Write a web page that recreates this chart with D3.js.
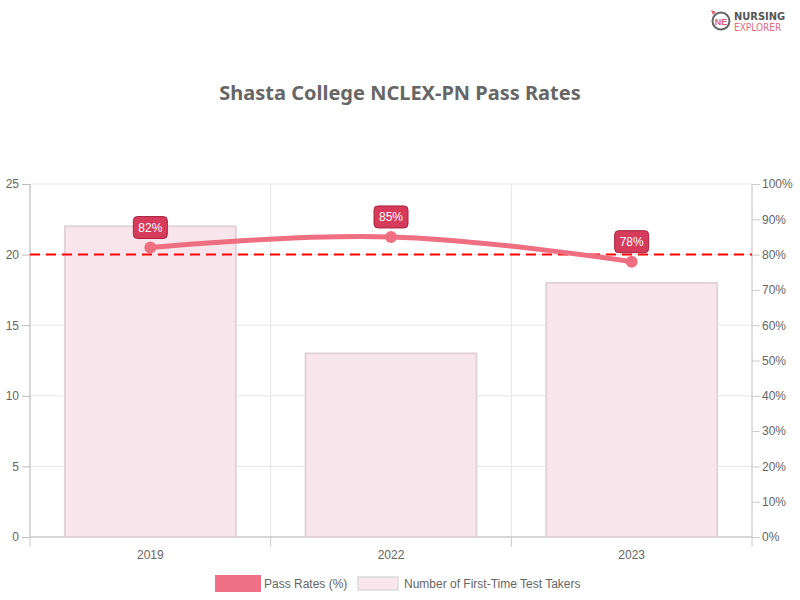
<!DOCTYPE html>
<html><head><meta charset="utf-8">
<script src="https://cdn.jsdelivr.net/npm/d3@7"></script>
<style>body{margin:0;background:#fff;} text{font-family:"Liberation Sans",Arial,sans-serif;}</style>
</head><body>
<svg id="c" width="800" height="600"></svg>
<script>
const years = ["2019","2022","2023"];
const passRates = [82, 85, 78];
const testTakers = [22, 13, 18];
const leftTicks = [0,5,10,15,20,25];
const rightTicks = [0,10,20,30,40,50,60,70,80,90,100];
const benchmark = 80;

const svg = d3.select("#c");
const L = 30, R = 752, T = 184, B = 537;
const x = d3.scaleBand().domain(years).range([L, R]).paddingInner(0).paddingOuter(0);
const yL = d3.scaleLinear().domain([0,25]).range([B,T]);
const yR = d3.scaleLinear().domain([0,100]).range([B,T]);
const grey = "#666";

// horizontal grid
svg.append("g").selectAll("line").data(leftTicks).join("line")
  .attr("x1", L).attr("x2", R).attr("y1", d=>yL(d)).attr("y2", d=>yL(d))
  .attr("stroke", "#e6e6e6").attr("stroke-width", 1);
// vertical grid
const vg = years.map(d=>x(d)).concat([R]);
svg.append("g").selectAll("line").data(vg).join("line")
  .attr("x1", d=>d).attr("x2", d=>d).attr("y1", T).attr("y2", B)
  .attr("stroke", "#e6e6e6");

// left axis
const gl = svg.append("g").attr("transform", `translate(${L},0)`)
  .call(d3.axisLeft(yL).tickValues(leftTicks).tickSize(8).tickPadding(3));
gl.select(".domain").attr("stroke", "#bbb").attr("d", `M0,${T}V${B}`);
gl.selectAll(".tick line").attr("stroke", "#bbb");
gl.selectAll("text").attr("fill", grey).style("font-size","12px").style("font-family","Liberation Sans, Arial, sans-serif");

// right axis
const gr = svg.append("g").attr("transform", `translate(${R},0)`)
  .call(d3.axisRight(yR).tickValues(rightTicks).tickFormat(d=>d+"%").tickSize(8).tickPadding(2));
gr.select(".domain").attr("stroke", "#ccc").attr("d", `M0,${T}V${B}`);
gr.selectAll(".tick line").attr("stroke", "#ccc");
gr.selectAll("text").attr("fill", grey).style("font-size","12px").style("font-family","Liberation Sans, Arial, sans-serif");

// bottom axis
const gb = svg.append("g").attr("transform", `translate(0,${B})`);
gb.append("line").attr("x1", L).attr("x2", R).attr("y1",0).attr("y2",0).attr("stroke","#bbb");
gb.selectAll(".tk").data(vg).join("line").attr("x1",d=>d).attr("x2",d=>d).attr("y1",0).attr("y2",10).attr("stroke","#ccc");
gb.selectAll("text").data(years).join("text")
  .attr("x", d=>x(d)+x.bandwidth()/2).attr("y", 22).attr("text-anchor","middle")
  .attr("fill", grey).style("font-size","12px").text(d=>d);

// bars
const bw = x.bandwidth()*0.71;
svg.append("g").selectAll("rect").data(years).join("rect")
  .attr("x", d=>x(d)+(x.bandwidth()-bw)/2)
  .attr("y", (d,i)=>yL(testTakers[i]))
  .attr("width", bw)
  .attr("height", (d,i)=>B-yL(testTakers[i]))
  .attr("fill", "#f9e6ec").attr("stroke", "#e2d3d8").attr("stroke-width", 2);

// benchmark dashed line
svg.append("line").attr("x1", L).attr("x2", R)
  .attr("y1", yR(benchmark)).attr("y2", yR(benchmark))
  .attr("stroke", "#ff0000").attr("stroke-width", 2).attr("stroke-dasharray", "10,6");

// line
const pts = years.map((d,i)=>[x(d)+x.bandwidth()/2, yR(passRates[i])]);
const lineGen = d3.line().curve(d3.curveCardinal.tension(-0.2));
svg.append("path").attr("d", lineGen(pts)).attr("fill","none")
  .attr("stroke","#f06e82").attr("stroke-width",5).attr("stroke-linecap","round");
svg.append("g").selectAll("circle").data(pts).join("circle")
  .attr("cx", d=>d[0]).attr("cy", d=>d[1]).attr("r", 6).attr("fill","#f06e82");

// labels
const lg = svg.append("g").selectAll("g").data(pts).join("g")
  .attr("transform", d=>`translate(${d[0]},${d[1]-20})`);
lg.append("rect").attr("x",-17).attr("y",-11).attr("width",34).attr("height",22).attr("rx",4)
  .attr("fill","#d63b5b").attr("stroke","#a8233f").attr("stroke-width",1);
lg.append("text").attr("text-anchor","middle").attr("dy","0.36em").attr("fill","#fff")
  .style("font-size","12px").text((d,i)=>passRates[i]+"%");

// title
svg.append("text").attr("x",400).attr("y",100).attr("text-anchor","middle")
  .attr("fill","#666").style("font-size","20px").style("font-weight","bold")
  .style("font-family","'Noto Sans','Open Sans',sans-serif")
  .text("Shasta College NCLEX-PN Pass Rates");

// legend
const leg = svg.append("g");
leg.append("rect").attr("x",215).attr("y",575).attr("width",46).attr("height",17).attr("fill","#f07086");
leg.append("text").attr("x",264).attr("y",588).attr("fill",grey).style("font-size","12px").text("Pass Rates (%)");
leg.append("rect").attr("x",358).attr("y",577).attr("width",40).attr("height",13).attr("fill","#f9e6ec").attr("stroke","#dcdcdc").attr("stroke-width",1.5);
leg.append("text").attr("x",404).attr("y",588).attr("fill",grey).style("font-size","12px").text("Number of First-Time Test Takers");

// logo
const logo = svg.append("g");
logo.append("circle").attr("cx",721).attr("cy",21).attr("r",8.5).attr("fill","none").attr("stroke","#666").attr("stroke-width",2);
logo.append("text").attr("x",721).attr("y",24.5).attr("text-anchor","middle").attr("fill","#e25f75").style("font-size","9px").style("font-weight","bold").text("NE");
logo.append("path").attr("d","M711,10 L716,12 L713,15 Z").attr("fill","#e25f75");
logo.append("text").attr("x",734).attr("y",20).attr("fill","#555").style("font-size","11px").style("font-weight","bold").style("font-family","'DejaVu Sans Condensed','Roboto',sans-serif").text("NURSING");
logo.append("text").attr("x",734).attr("y",31).attr("fill","#e86a7e").style("font-size","10px").style("font-family","'DejaVu Sans Condensed','Roboto',sans-serif").text("EXPLORER");
</script>
</body></html>
